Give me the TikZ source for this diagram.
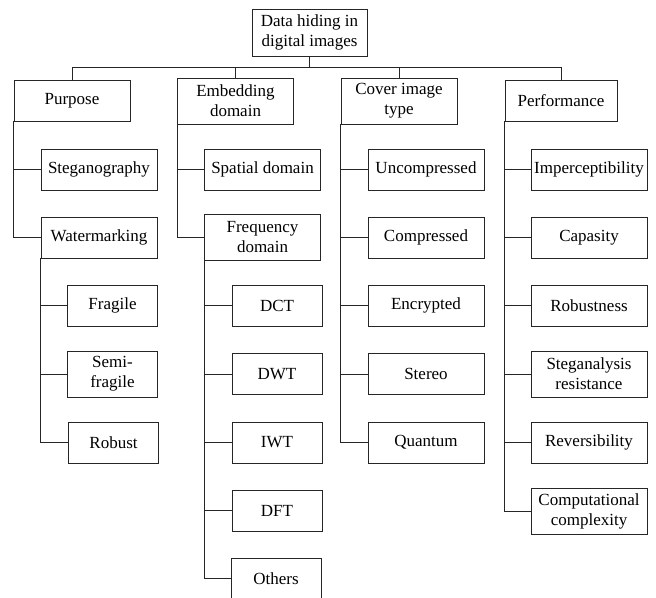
\documentclass[tikz,border=0pt]{standalone}
\usepackage{fontspec}
\setmainfont{Liberation Serif}
\begin{document}
\begin{tikzpicture}[x=0.75pt, y=-0.75pt,
        every node/.style={font=\fontsize{12.75}{15}\selectfont},
        box/.style={draw=black!85, line width=0.6pt, align=center, inner sep=1pt, minimum width=87pt, minimum height=30.75pt},
        tall/.style={minimum height=34.5pt},
        leaf/.style={box, minimum width=67.5pt},
        link/.style={draw=black!85, line width=0.6pt}]
        \useasboundingbox (0,0) rectangle (656,597);

        \node[box, tall, minimum width=86.25pt, minimum height=35.25pt] at (309.5, 32.5)  (root)    {Data hiding in\\digital images};
        \coordinate (bar) at (309.5, 67);

        \node[box]               at (72, 100.5)    (purpose)  {Purpose};
        \node[box, tall]         at (235.5, 101)   (embed)    {Embedding\\domain};
        \node[box, tall]         at (399, 101)     (cover)    {Cover image\\type};
        \node[box, minimum width=84pt] at (561, 100.5) (perf) {Performance};

        \node[box]               at (99, 169.5)    (stego)    {Steganography};
        \node[box]               at (99, 237.5)    (water)    {Watermarking};
        \node[leaf]              at (112.5, 305.5) (fragile)  {Fragile};
        \node[leaf, tall]        at (112.5, 374)   (semi)     {Semi-\\fragile};
        \node[leaf]              at (113.5, 442.5) (robust)   {Robust};

        \node[box]               at (262.5, 169.5) (spatial)  {Spatial domain};
        \node[box, tall]         at (262.5, 237.5) (freq)     {Frequency\\domain};
        \node[leaf]              at (277, 305.5)   (dct)      {DCT};
        \node[leaf]              at (277, 374)     (dwt)      {DWT};
        \node[leaf]              at (277, 442.5)   (iwt)      {IWT};
        \node[leaf]              at (277, 510.5)   (dft)      {DFT};
        \node[leaf]              at (276, 578.5)   (others)   {Others};

        \node[box]               at (426, 169.5)   (uncomp)   {Uncompressed};
        \node[box]               at (426, 237.5)   (comp)     {Compressed};
        \node[box]               at (426, 305.5)   (encr)     {Encrypted};
        \node[box]               at (426, 374)     (stereo)   {Stereo};
        \node[box]               at (426, 442.5)   (quant)    {Quantum};

        \node[box]               at (589, 169.5)   (imper)    {Imperceptibility};
        \node[box]               at (589, 237.5)   (capa)     {Capasity};
        \node[box]               at (589, 305.5)   (robn)     {Robustness};
        \node[box, tall]         at (589, 374)     (stega)    {Steganalysis\\resistance};
        \node[box]               at (589, 442.5)   (rever)    {Reversibility};
        \node[box, tall]         at (589, 511)     (compl)    {Computational\\complexity};

        % top level
        \draw[link]  (root.south) -- (bar);
        \draw[link]  (bar) -| (purpose.north);
        \draw[link]  (bar) -| (embed.north);
        \draw[link]  (bar) -| (cover.north);
        \draw[link]  (bar) -| (perf.north);

        % purpose
        \draw[link]  (purpose.south west) |- (stego.west);
        \draw[link]  (purpose.south west) |- (water.west);
        \draw[link]  (water.south west) |- (fragile.west);
        \draw[link]  (water.south west) |- (semi.west);
        \draw[link]  (water.south west) |- (robust.west);

        % embedding domain
        \draw[link]  (embed.south west) |- (spatial.west);
        \draw[link]  (embed.south west) |- (freq.west);
        \draw[link]  (freq.south west) |- (dct.west);
        \draw[link]  (freq.south west) |- (dwt.west);
        \draw[link]  (freq.south west) |- (iwt.west);
        \draw[link]  (freq.south west) |- (dft.west);
        \draw[link]  (freq.south west) |- (others.west);

        % cover image type
        \draw[link]  (cover.south west) |- (uncomp.west);
        \draw[link]  (cover.south west) |- (comp.west);
        \draw[link]  (cover.south west) |- (encr.west);
        \draw[link]  (cover.south west) |- (stereo.west);
        \draw[link]  (cover.south west) |- (quant.west);

        % performance
        \draw[link]  (perf.south west) |- (imper.west);
        \draw[link]  (perf.south west) |- (capa.west);
        \draw[link]  (perf.south west) |- (robn.west);
        \draw[link]  (perf.south west) |- (stega.west);
        \draw[link]  (perf.south west) |- (rever.west);
        \draw[link]  (perf.south west) |- (compl.west);
      \end{tikzpicture}
\end{document}
